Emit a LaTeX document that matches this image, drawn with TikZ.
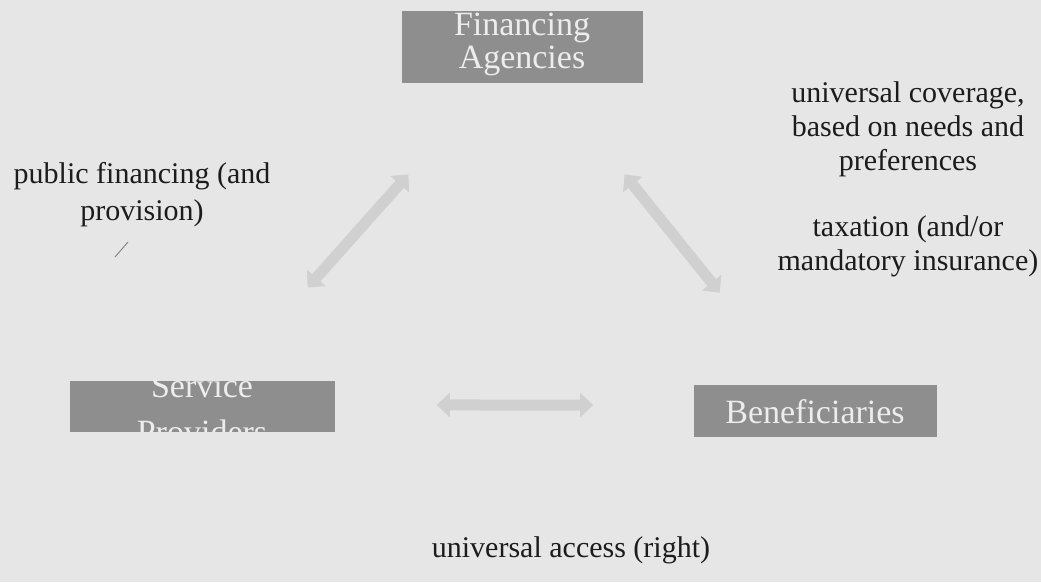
\documentclass[tikz,border=0pt]{standalone}
\usepackage{fontspec}
\setmainfont{Liberation Serif}
\usetikzlibrary{calc,arrows.meta}
\definecolor{paper}{HTML}{E6E6E6}
\definecolor{boxgray}{HTML}{8E8E8E}
\definecolor{boxtext}{HTML}{EDEDED}
\definecolor{flowgray}{HTML}{D0D0D0}
\definecolor{ink}{HTML}{1C1C1C}
\tikzset{
  actor/.style={fill=boxgray, draw=none, inner sep=0pt},
  actortext/.style={text=boxtext, font=\fontsize{34}{31}\selectfont, anchor=base, inner sep=0pt},
  note/.style={text=ink, font=\fontsize{30}{34}\selectfont, align=center, inner sep=0pt, anchor=base},
  flow/.style={draw=flowgray, line width=11pt,
    arrows={Triangle[width=24pt,length=13pt]-Triangle[width=24pt,length=13pt]}},
}
\begin{document}
\begin{tikzpicture}[x=1pt,y=-1pt]
  \fill[paper] (0,0) rectangle (1041,582);
  \useasboundingbox (0,0) rectangle (1041,582);

  % the three actors
  \node[actor, minimum width=241pt, minimum height=72pt,
        path picture={
          \node[actortext] at ([yshift=12pt]path picture bounding box.center) {Financing};
          \node[actortext] at ([yshift=-21pt]path picture bounding box.center) {Agencies};
        }] (fin) at (522,47) {};
  \node[actor, minimum width=265pt, minimum height=51pt,
        path picture={
          \node[actortext] at ([yshift=9pt]path picture bounding box.center) {Service};
          \node[actortext] at ([yshift=-37pt]path picture bounding box.center) {Providers};
        }] (serv) at (202,406) {};
  \node[actor, minimum width=243pt, minimum height=52pt,
        path picture={
          \node[actortext] at ([yshift=-12pt]path picture bounding box.center) {Beneficiaries};
        }] (ben) at (815,411) {};

  % relations between the actors
  \coordinate (sf1) at ($(serv)!0.33!(fin)$);
  \coordinate (sf2) at ($(serv)!0.645!(fin)$);
  \coordinate (fb1) at ($(fin)!0.35!(ben)$);
  \coordinate (fb2) at ($(fin)!0.675!(ben)$);
  \coordinate (sb1) at ($(serv)!0.383!(ben)+(0,-3)$);
  \coordinate (sb2) at ($(serv)!0.638!(ben)+(0,-4)$);
  \draw[flow] (sf1) -- (sf2);
  \draw[flow] (fb1) -- (fb2);
  \draw[flow] (sb1) -- (sb2);

  % labels (anchored at the baseline of their last line)
  \node[note, font=\fontsize{30}{37}\selectfont] (lpub) at (142,220) {public financing (and\\provision)};
  \node[note] (lcov) at (908,170) {universal coverage,\\based on needs and\\preferences};
  \node[note] (ltax) at (908,270) {taxation (and/or\\mandatory insurance)};
  \node[note] (lacc) at (571,557) {universal access (right)};

  % small pen stroke
  \draw[gray, line width=0.9pt] (115,257) -- (128,242);
\end{tikzpicture}
\end{document}
